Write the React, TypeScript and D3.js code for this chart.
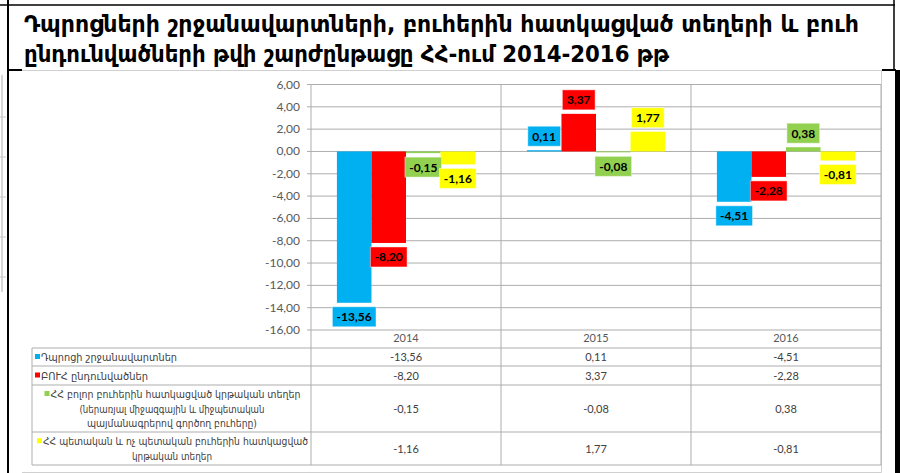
import React from "react";
import * as d3 from "d3";

const years = ["2014", "2015", "2016"];
const seriesKeys = ["graduates", "admitted", "allPlaces", "statePlaces"];
const seriesColors = ["#00B0F0", "#FF0000", "#92D050", "#FFFF00"];
const graduates = [-13.56, 0.11, -4.51];
const admitted = [-8.2, 3.37, -2.28];
const allPlaces = [-0.15, -0.08, 0.38];
const statePlaces = [-1.16, 1.77, -0.81];
const seriesValues = [graduates, admitted, allPlaces, statePlaces];
const yTicks = [6, 4, 2, 0, -2, -4, -6, -8, -10, -12, -14, -16];

const titleLines = [
  "Դպրոցների շրջանավարտների, բուհերին հատկացված տեղերի և բուհ",
  "ընդունվածների թվի շարժընթացը ՀՀ-ում 2014-2016 թթ",
];
const titleLengths = [835, 645];

const legendLines = [
  ["Դպրոցի շրջանավարտներ"],
  ["ԲՈՒՀ ընդունվածներ"],
  [
    "ՀՀ բոլոր բուհերին հատկացված կրթական տեղեր",
    "(ներառյալ միջազգային և միջպետական",
    "պայմանագրերով գործող բուհերը)",
  ],
  ["ՀՀ պետական և ոչ պետական բուհերին հատկացված", "կրթական տեղեր"],
];
const legendLengths = [[136], [107], [250, 185, 170], [265, 80]];

const locale = d3.formatLocale({
  decimal: ",",
  thousands: " ",
  grouping: [3],
  currency: ["", ""],
  minus: "-",
});
const fmt = locale.format(".2f");

function labelWidth(s: string) {
  let w = 0;
  for (const c of s) {
    if (c === ",") w += 2.9;
    else if (c === "-") w += 3.9;
    else w += 6.96;
  }
  return w + 9;
}

export default function App() {
  const W = 900;
  const H = 473;
  const plotLeft = 311;
  const plotRight = 881;
  const y = d3.scaleLinear().domain([-16, 6]).range([330, 84.5]);
  const x0 = d3.scaleBand<string>().domain(years).range([plotLeft, plotRight]);
  const bw = x0.bandwidth();
  const bar = bw / 5.5;
  const x1 = d3
    .scaleBand<string>()
    .domain(seriesKeys)
    .range([0.75 * bar, bw - 0.75 * bar]);

  const tableBottom = 465;
  const rowLines = [348, 366, 385, 432, 465];
  const tableLeft = 32;
  const legendCx = 172;
  const grid = "#ADADAD";
  const armFont = "'DejaVu Sans', sans-serif";
  const numFont = "Lato, 'Open Sans', sans-serif";

  return (
    <svg
      width={W}
      height={H}
      style={{ position: "absolute", left: 0, top: 0, display: "block", background: "#fff" }}
    >
      {/* left artifacts */}
      <line x1={2} x2={2} y1={75} y2={292} stroke="#C8C8C8" strokeWidth={1.5} />
      {[117, 157, 197, 237, 277].map((yy) => (
        <line key={yy} x1={0} x2={6} y1={yy} y2={yy} stroke="#C8C8C8" />
      ))}
      {/* title frame */}
      <line x1={0} x2={895} y1={5} y2={5} stroke="#000" strokeWidth={1.5} />
      <line x1={8} x2={8} y1={0} y2={H} stroke="#000" strokeWidth={2} />
      <line x1={894} x2={894} y1={0} y2={70} stroke="#000" strokeWidth={1.5} />
      <rect x={895} y={70} width={5} height={H - 70} fill="#000" />
      <line x1={8} x2={22} y1={70} y2={70} stroke="#000" strokeWidth={2} />
      <line x1={882} x2={896} y1={70} y2={70} stroke="#000" strokeWidth={2} />
      {titleLines.map((t, i) => (
        <text
          key={i}
          x={24}
          y={32 + i * 30}
          fontFamily={armFont}
          fontWeight="bold"
          fontSize={23.5}
          textLength={titleLengths[i]}
          lengthAdjust="spacingAndGlyphs"
          fill="#000"
        >
          {t}
        </text>
      ))}
      {/* chart area border */}
      <path
        d={`M22,70.5 H881.5 V472.5 H22`}
        fill="none"
        stroke="#D0D0D0"
        strokeWidth={1}
      />

      {/* gridlines */}
      {yTicks.map((t) => (
        <g key={t}>
          <line x1={plotLeft - 4} x2={plotRight} y1={y(t)} y2={y(t)} stroke={grid} strokeWidth={1} />
          <text
            x={300}
            y={y(t) + 4}
            textAnchor="end"
            fontFamily={numFont}
            fontSize={12}
            fill="#595959"
          >
            {fmt(t)}
          </text>
        </g>
      ))}
      {/* vertical axis / category dividers */}
      {[plotLeft, ...years.map((yr) => x0(yr)! + bw)].map((xx, i) => (
        <line key={i} x1={xx} x2={xx} y1={y(6)} y2={tableBottom} stroke={grid} strokeWidth={1} />
      ))}
      {/* category labels */}
      {years.map((yr) => (
        <text
          key={yr}
          x={x0(yr)! + bw / 2}
          y={342}
          textAnchor="middle"
          fontFamily={numFont}
          fontSize={11}
          fill="#595959"
        >
          {yr}
        </text>
      ))}

      {/* bars */}
      {years.map((yr, ci) =>
        seriesKeys.map((k, si) => {
          const v = seriesValues[si][ci];
          const bx = x0(yr)! + x1(k)!;
          const top = Math.min(y(v), y(0));
          const h = Math.abs(y(v) - y(0));
          return (
            <rect
              key={yr + k}
              x={bx}
              y={top}
              width={x1.bandwidth()}
              height={Math.max(h, 0.5)}
              fill={seriesColors[si]}
            />
          );
        })
      )}
      {/* data labels */}
      {years.map((yr, ci) =>
        seriesKeys.map((k, si) => {
          const v = seriesValues[si][ci];
          const cx = x0(yr)! + x1(k)! + x1.bandwidth() / 2;
          const s = fmt(v);
          const w = labelWidth(s);
          const hB = 20;
          const by = v >= 0 ? y(v) - 4 - hB : y(v) + 4;
          return (
            <g key={"l" + yr + k}>
              <rect
                x={cx - w / 2}
                y={by}
                width={w}
                height={hB}
                fill={seriesColors[si]}
                stroke="#ffffff"
                strokeOpacity={0.45}
                strokeWidth={1}
              />
              <text
                x={cx}
                y={by + 14.5}
                textAnchor="middle"
                fontFamily={numFont}
                fontWeight="bold"
                fontSize={12}
                fill="#000"
              >
                {s}
              </text>
            </g>
          );
        })
      )}

      {/* data table */}
      {rowLines.map((ry) => (
        <line key={ry} x1={tableLeft} x2={plotRight} y1={ry} y2={ry} stroke={grid} strokeWidth={1} />
      ))}
      <line x1={tableLeft} x2={tableLeft} y1={rowLines[0]} y2={tableBottom} stroke={grid} strokeWidth={1} />
      {legendLines.map((lines, ri) => {
        const rTop = rowLines[ri];
        const rBot = rowLines[ri + 1];
        const mid = (rTop + rBot) / 2;
        const lh = 14.5;
        const firstBase = mid + 4 - ((lines.length - 1) * lh) / 2;
        return (
          <g key={ri}>
            {lines.map((ln, li) => {
              const tl = legendLengths[ri][li];
              const single = lines.length === 1;
              let tx: number;
              if (single) tx = 41;
              else if (li === 0) tx = legendCx - (tl + 7) / 2 + 7;
              else tx = legendCx - tl / 2;
              return (
                <g key={li}>
                  {li === 0 && (
                    <rect
                      x={tx - 6}
                      y={firstBase - 7}
                      width={5}
                      height={5}
                      fill={seriesColors[ri]}
                    />
                  )}
                  <text
                    x={tx}
                    y={firstBase + li * lh}
                    fontFamily={armFont}
                    fontSize={11}
                    textLength={tl}
                    lengthAdjust="spacingAndGlyphs"
                    fill="#404040"
                  >
                    {ln}
                  </text>
                </g>
              );
            })}
            {years.map((yr, ci) => (
              <text
                key={yr}
                x={x0(yr)! + bw / 2}
                y={mid + 4}
                textAnchor="middle"
                fontFamily={numFont}
                fontSize={11}
                fill="#404040"
              >
                {fmt(seriesValues[ri][ci])}
              </text>
            ))}
          </g>
        );
      })}
    </svg>
  );
}
